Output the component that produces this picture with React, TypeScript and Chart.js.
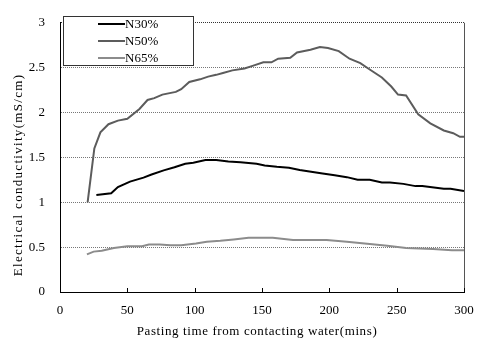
import React, { useEffect, useRef } from "react";
import { Chart, registerables } from "chart.js";

Chart.register(...registerables);

const seriesLabels = ["N30%", "N50%", "N65%"];
const seriesColors = ["#000000", "#5c5c5c", "#8c8c8c"];

const timesN30 = [27, 38, 43, 52, 62, 68, 77, 85, 93, 99, 108, 116, 125, 134, 146, 152, 161, 170, 178, 195, 204, 213, 221, 230, 239, 245, 255, 264, 269, 285, 290, 300];
const valuesN30 = [1.08, 1.1, 1.17, 1.23, 1.275, 1.31, 1.355, 1.39, 1.43, 1.44, 1.47, 1.47, 1.455, 1.445, 1.43, 1.41, 1.395, 1.385, 1.36, 1.32, 1.3, 1.28, 1.25, 1.25, 1.22, 1.22, 1.205, 1.18, 1.18, 1.15, 1.15, 1.125];

const timesN50 = [20.5, 25.5, 30, 36, 43, 50, 59, 65, 70, 76, 86, 90, 96, 104, 110, 116, 121, 128, 137, 143, 151, 157, 162, 171, 176, 186, 193, 199, 207, 215, 223, 230, 239, 246, 251, 257, 266, 275, 285, 292, 297, 300];
const valuesN50 = [1.0, 1.6, 1.78, 1.87, 1.91, 1.93, 2.04, 2.14, 2.16, 2.2, 2.23, 2.26, 2.34, 2.37, 2.4, 2.42, 2.44, 2.47, 2.49, 2.52, 2.56, 2.56, 2.6, 2.61, 2.67, 2.7, 2.73, 2.72, 2.685, 2.6, 2.55, 2.48, 2.39, 2.29, 2.2, 2.19, 1.98, 1.88, 1.8, 1.77, 1.73, 1.73];

const timesN65 = [20, 25, 31, 40, 50, 61, 66, 74, 82, 90, 101, 109, 119, 129, 140, 155, 158, 173, 198, 213, 230, 243, 257, 277, 291, 300];
const valuesN65 = [0.42, 0.45, 0.46, 0.49, 0.51, 0.51, 0.53, 0.53, 0.52, 0.52, 0.54, 0.56, 0.57, 0.585, 0.605, 0.605, 0.605, 0.58, 0.58, 0.56, 0.535, 0.515, 0.49, 0.48, 0.465, 0.465];

const xTitle = "Pasting time from contacting water(mins)";
const yTitle = "Electrical conductivity(mS/cm)";
const xMin = 0, xMax = 300, xStep = 50;
const yMin = 0, yMax = 3, yStep = 0.5;

const FONT = "'Liberation Serif', 'Times New Roman', serif";

const zip = (xs: number[], ys: number[]) => xs.map((x, i) => ({ x, y: ys[i] }));

const decorPlugin = {
  id: "decor",
  afterDraw(chart: any) {
    const { ctx, chartArea } = chart;
    const { right, top, bottom } = chartArea;
    const xs = chart.scales.x;
    ctx.save();
    // right border
    ctx.strokeStyle = "#555";
    ctx.lineWidth = 1;
    ctx.beginPath();
    ctx.moveTo(Math.round(right) + 0.5, top);
    ctx.lineTo(Math.round(right) + 0.5, bottom);
    ctx.stroke();
    // inward x ticks
    ctx.strokeStyle = "#000";
    xs.ticks.forEach((t: any) => {
      const px = Math.round(xs.getPixelForValue(t.value)) + 0.5;
      ctx.beginPath();
      ctx.moveTo(px, bottom);
      ctx.lineTo(px, bottom - 4);
      ctx.stroke();
    });
    // titles
    ctx.fillStyle = "#000";
    ctx.font = `13px ${FONT}`;
    ctx.textAlign = "center";
    ctx.textBaseline = "middle";
    (ctx as any).letterSpacing = "0.6px";
    ctx.fillText(xTitle, 257, 332);
    ctx.save();
    (ctx as any).letterSpacing = "1.3px";
    ctx.translate(19, 175);
    ctx.rotate(-Math.PI / 2);
    ctx.fillText(yTitle, 0, 0);
    ctx.restore();
    (ctx as any).letterSpacing = "0px";
    // legend
    const lx = 63.5, ly = 16.5, lw = 130, lh = 49;
    ctx.fillStyle = "#fff";
    ctx.fillRect(lx, ly, lw, lh);
    ctx.strokeStyle = "#333";
    ctx.lineWidth = 1;
    ctx.strokeRect(lx, ly, lw, lh);
    const rows = [24, 41, 58];
    chart.data.datasets.forEach((ds: any, i: number) => {
      ctx.strokeStyle = ds.borderColor;
      ctx.lineWidth = 2;
      ctx.beginPath();
      ctx.moveTo(98, rows[i]);
      ctx.lineTo(125, rows[i]);
      ctx.stroke();
      ctx.fillStyle = "#000";
      ctx.textAlign = "left";
      ctx.fillText(ds.label, 125, rows[i] + 1);
    });
    ctx.restore();
  },
};

export default function App() {
  const ref = useRef<HTMLCanvasElement>(null);
  useEffect(() => {
    if (!ref.current) return;
    const chart = new Chart(ref.current, {
      type: "line",
      data: {
        datasets: [
          { label: seriesLabels[0], data: zip(timesN30, valuesN30), borderColor: seriesColors[0] },
          { label: seriesLabels[1], data: zip(timesN50, valuesN50), borderColor: seriesColors[1] },
          { label: seriesLabels[2], data: zip(timesN65, valuesN65), borderColor: seriesColors[2] },
        ].map((d) => ({ ...d, borderWidth: 2, pointRadius: 0, fill: false, tension: 0 })),
      },
      options: {
        animation: false,
        responsive: false,
        layout: { padding: { top: 13, right: 24, left: 0, bottom: 0 } },
        plugins: { legend: { display: false }, tooltip: { enabled: false } },
        scales: {
          x: {
            type: "linear",
            min: xMin,
            max: xMax,
            ticks: { stepSize: xStep, color: "#000", font: { family: FONT, size: 13 }, padding: 11, maxRotation: 0 },
            grid: { display: false, drawTicks: false },
            border: { display: true, color: "#000", width: 1 },
            afterFit: (s: any) => { s.height = 51; },
          },
          y: {
            min: yMin,
            max: yMax,
            ticks: {
              stepSize: yStep,
              color: "#000",
              font: { family: FONT, size: 13 },
              padding: 15,
              callback: (v: any) => String(Number(v)),
            },
            grid: {
              drawTicks: false,
              lineWidth: 1,
              color: (c: any) => (c.tick && c.tick.value === 0 ? "rgba(0,0,0,0)" : c.tick && c.tick.value === 3 ? "#333" : "#777"),
            },
            border: { display: true, color: "#000", width: 1, dash: [1, 1] },
            afterFit: (s: any) => { s.width = 60; },
          },
        },
      } as any,
      plugins: [decorPlugin],
    });
    return () => chart.destroy();
  }, []);
  return (
    <div style={{ position: "fixed", left: 0, top: 0, width: 488, height: 343, background: "#fff" }}>
      <canvas ref={ref} width={488} height={343} style={{ display: "block" }} />
    </div>
  );
}
